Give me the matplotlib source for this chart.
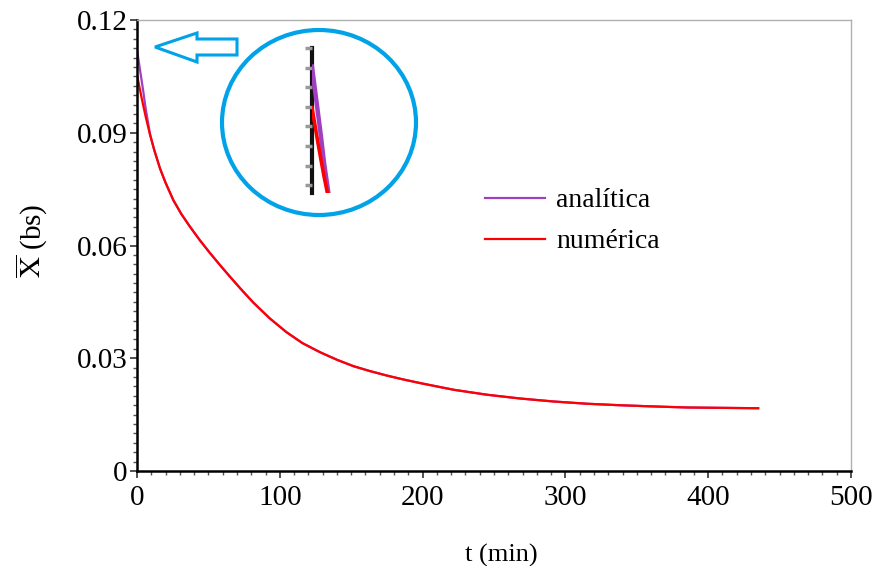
import numpy as np
import matplotlib
matplotlib.use('Agg')
import matplotlib.pyplot as plt
from matplotlib.patches import Ellipse, Polygon
from matplotlib.ticker import MultipleLocator

plt.rcParams['font.family'] = ['Liberation Serif', 'DejaVu Serif']
plt.rcParams['mathtext.fontset'] = 'stix'

# Data: drying curve, moisture X (bs) vs time t (min)
t_min = [0, 1, 2, 3, 4.4, 6, 9.1, 12, 16.1, 20, 25.4, 31, 37.1, 44, 51.1,
         58.1, 65.1, 73, 81.5, 93, 104.8, 116, 128.2, 140, 151.5, 163,
         174.9, 186, 198.2, 210, 222, 245, 268, 291.5, 315, 338, 360, 385,
         410, 435]
x_numerica = [0.1054, 0.1035, 0.1016, 0.0997, 0.0972, 0.0944, 0.0895, 0.0855,
              0.0805, 0.0767, 0.0721, 0.0684, 0.0650, 0.0614, 0.0580, 0.0548,
              0.0517, 0.0483, 0.0448, 0.0406, 0.0369, 0.0340, 0.0316, 0.0296,
              0.0279, 0.0266, 0.0254, 0.0244, 0.0234, 0.0225, 0.0216, 0.0203,
              0.0193, 0.0185, 0.0179, 0.0175, 0.0172, 0.0169, 0.0168, 0.0167]
x_analitica = [0.1120, 0.1095, 0.1070, 0.1045, 0.1010, 0.0966, 0.0897, 0.0855,
               0.0805, 0.0767, 0.0721, 0.0684, 0.0650, 0.0614, 0.0580, 0.0548,
               0.0517, 0.0483, 0.0448, 0.0406, 0.0369, 0.0340, 0.0316, 0.0296,
               0.0279, 0.0266, 0.0254, 0.0244, 0.0234, 0.0225, 0.0216, 0.0203,
               0.0193, 0.0185, 0.0179, 0.0175, 0.0172, 0.0169, 0.0168, 0.0167]

purple = '#a040c0'
red = '#ff0000'
blue = '#00a2e8'

W, H = 881, 566
fig = plt.figure(figsize=(W / 100, H / 100), dpi=100)
ax = fig.add_axes([137 / W, 1 - 471 / H, (851 - 137) / W, (471 - 20) / H])

ax.plot(t_min, x_analitica, color=purple, lw=1.6, label='analítica')
ax.plot(t_min, x_numerica, color=red, lw=1.6, label='numérica')

ax.set_xlim(0, 500)
ax.set_ylim(0, 0.12)
ax.set_xticks([0, 100, 200, 300, 400, 500])
ax.set_yticks([0, 0.03, 0.06, 0.09, 0.12])
ax.set_yticklabels(['0', '0.03', '0.06', '0.09', '0.12'])
ax.xaxis.set_minor_locator(MultipleLocator(10))
ax.yaxis.set_minor_locator(MultipleLocator(0.0025))
ax.tick_params(which='major', length=5, width=1.2, color='#333333',
               labelsize=21, pad=2)
ax.tick_params(which='minor', length=3, width=1, color='#555555')
ax.tick_params(axis='x', pad=5)

for side in ['left', 'bottom']:
    ax.spines[side].set_linewidth(1.8)
    ax.spines[side].set_color('black')
for side in ['top', 'right']:
    ax.spines[side].set_linewidth(1)
    ax.spines[side].set_color('#b0b0b0')

ax.set_xlabel('t (min)', fontsize=19, labelpad=24)
ax.xaxis.label.set_x(0.51)
ax.set_ylabel(r'$\overline{\mathrm{X}}$ (bs)', fontsize=21, labelpad=20)
ax.yaxis.label.set_y(0.51)

ax.legend(loc='upper left', bbox_to_anchor=(460 / W, 1 - 163 / H),
          bbox_transform=fig.transFigure, frameon=False, fontsize=20,
          handlelength=2.16, handletextpad=0.4, labelspacing=0.56)

# zoomed inset of the start of the curve
ax_in = fig.add_axes([312 / W, 1 - 193 / H, 28 / W, 145 / H])
ax_in.plot(t_min, x_analitica, color=purple, lw=3.2)
ax_in.plot(t_min, x_numerica, color=red, lw=2.6)
ax_in.set_xlim(0, 14)
ax_in.set_ylim(0.0917, 0.115)
ax_in.set_yticks(np.arange(0.115, 0.0917, -0.00315))
ax_in.set_xticks([])
ax_in.tick_params(axis='y', length=5, width=2.5, color='#999999',
                  labelleft=False)
ax_in.patch.set_alpha(0)
for side in ['top', 'right', 'bottom']:
    ax_in.spines[side].set_visible(False)
ax_in.spines['left'].set_linewidth(3)
ax_in.spines['left'].set_color('#111111')
ax_in.spines['left'].set_zorder(0)

# blue circle around the inset and arrow pointing to the curve start
circle = Ellipse((319 / W, 1 - 122.5 / H), 194 / W, 185 / H,
                 transform=fig.transFigure, fill=False, ec=blue, lw=3)
fig.patches.append(circle)
arrow_px = [(155, 47), (197, 33), (197, 39), (237, 39), (237, 55),
            (197, 55), (197, 62)]
arrow = Polygon([(x / W, 1 - y / H) for x, y in arrow_px], closed=True,
                transform=fig.transFigure, fill=False, ec=blue, lw=2.2)
fig.patches.append(arrow)

fig.savefig('out.png', dpi=100)
